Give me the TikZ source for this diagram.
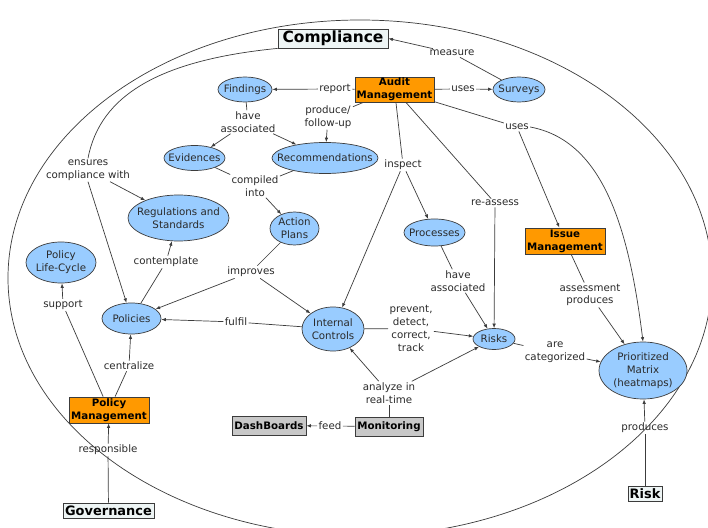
\documentclass[tikz,border=0pt]{standalone}
\usepackage{fontspec}
\setmainfont{DejaVu Sans}
\usetikzlibrary{shapes.geometric,arrows.meta}
\definecolor{cblue}{HTML}{99CCFF}
\definecolor{corange}{HTML}{FF9900}
\definecolor{cgray}{HTML}{C8C8C8}
\definecolor{clight}{HTML}{EEF5F5}
\definecolor{cline}{HTML}{3C3C3C}
\definecolor{ctext}{HTML}{2A2A2A}
\tikzset{
  concept/.style={ellipse, draw=cline, fill=cblue, line width=0.7bp, inner sep=0pt},
  ctxt/.style={inner sep=0pt, align=center, font=\fontsize{10.3}{12.8}\selectfont, text=ctext},
  orangebox/.style={rectangle, draw=cline, fill=corange, line width=0.8bp, inner sep=0pt, align=center, font=\bfseries\fontsize{10.3}{12.8}\selectfont},
  graybox/.style={rectangle, draw=cline, fill=cgray, line width=0.8bp, inner sep=0pt, font=\bfseries\fontsize{10.3}{12.8}\selectfont},
  lightbox/.style={rectangle, draw=cline, fill=clight, line width=0.8bp, inner sep=0pt},
  lbl/.style={inner sep=1.2bp, align=center, font=\fontsize{10.3}{12.8}\selectfont, text=ctext},
  conn/.style={draw=cline, line width=0.7bp},
  arr/.style={conn, -{Latex[length=4.5bp,width=3.5bp]}},
}
\newcommand{\concept}[5]{%
  \node[concept, minimum width=#3bp, minimum height=#4bp] (#1) at (#2) {};
  \node[ctxt] (#1-t) at (#1.center) {#5};}
\begin{document}
\begin{tikzpicture}[x=1bp,y=-1bp]
\useasboundingbox (0,0) rectangle (708,528);
\fill[white] (0,0) rectangle (708,528);
\draw[conn] (360,278) ellipse [x radius=352, y radius=258];

% main boxes
\node[lightbox, minimum width=110bp, minimum height=19bp, font=\bfseries\fontsize{15.5}{18}\selectfont] (compl) at (333,38.5) {Compliance};
\node[lightbox, minimum width=91bp, minimum height=15bp, font=\bfseries\fontsize{13}{15}\selectfont] (gov) at (108.5,510.5) {Governance};
\node[lightbox, minimum width=34bp, minimum height=15bp, font=\bfseries\fontsize{13}{15}\selectfont] (risk) at (645,494) {Risk};
\node[orangebox, minimum width=79bp, minimum height=25bp] (audit) at (394.5,89.5) {Audit\\Management};
\node[orangebox, minimum width=80bp, minimum height=26bp] (issue) at (565,241) {Issue\\Management};
\node[orangebox, minimum width=80bp, minimum height=26bp] (polm) at (109,410) {Policy\\Management};
\node[graybox, minimum width=74bp, minimum height=19bp] (dash) at (269,425.5) {DashBoards};
\node[graybox, minimum width=68bp, minimum height=19bp] (monit) at (389,426.5) {Monitoring};

% concepts
\concept{surveys}{519,89.5}{52}{25}{Surveys}
\concept{findings}{245,89.5}{54}{25}{Findings}
\concept{evid}{194.5,158}{61}{25}{Evidences}
\concept{recom}{325,158}{106}{31}{Recommendations}
\concept{regs}{178.5,218}{101}{46}{Regulations and\\Standards}
\concept{actp}{294.5,228.5}{49}{33}{Action\\Plans}
\concept{plc}{61,262.5}{70}{41}{Policy\\Life-Cycle}
\concept{pol}{131.5,318.5}{59}{31}{Policies}
\concept{ic}{333,329}{62}{44}{Internal\\Controls}
\concept{proc}{434.5,232.5}{61}{27}{Processes}
\concept{risks}{494,339}{42}{21}{Risks}
\concept{pm}{643,370.5}{88}{57}{Prioritized\\Matrix\\(heatmaps)}

% linking phrases
\node[lbl] (l-report) at (335,89) {report};
\node[lbl] (l-prod) at (328,117) {produce/\\follow-up};
\node[lbl] (l-have1) at (248,122) {have\\associated};
\node[lbl] (l-comp) at (255,186) {compiled\\into};
\node[lbl] (l-ens) at (88,170) {ensures\\compliance with};
\node[lbl] (l-cont) at (166,262) {contemplate};
\node[lbl] (l-impr) at (251,272) {improves};
\node[lbl] (l-fulfil) at (236,322) {fulfil};
\node[lbl] (l-insp) at (403,165) {inspect};
\node[lbl] (l-reas) at (495,203) {re-assess};
\node[lbl] (l-uses1) at (463,89) {uses};
\node[lbl] (l-meas) at (452,53) {measure};
\node[lbl] (l-uses2) at (517,127) {uses};
\node[lbl] (l-assess) at (590,295) {assessment\\produces};
\node[lbl] (l-have2) at (458,281) {have\\associated};
\node[lbl] (l-prev) at (411,328.5) {prevent,\\detect,\\correct,\\track};
\node[lbl] (l-cat) at (555,352.5) {are\\categorized};
\node[lbl] (l-anal) at (389,393) {analyze in\\real-time};
\node[lbl] (l-feed) at (330,426) {feed};
\node[lbl] (l-cent) at (129,366) {centralize};
\node[lbl] (l-supp) at (63,305) {support};
\node[lbl] (l-resp) at (108,450) {responsible};
\node[lbl] (l-prodc) at (645,428) {produces};

% connectors
\draw[conn] (audit) -- (l-report); \draw[arr] (l-report) -- (findings);
\draw[conn] (audit) -- (l-prod); \draw[arr] (l-prod) -- (recom);
\draw[conn] (findings) -- (l-have1); \draw[arr] (l-have1) -- (evid); \draw[arr] (l-have1) -- (recom);
\draw[conn] (evid) -- (l-comp); \draw[conn] (recom) -- (l-comp); \draw[arr] (l-comp) -- (actp);
\draw[conn] (compl.south west) .. controls (160,60) and (100,95) .. (l-ens.north);
\draw[arr] (l-ens) -- (regs); \draw[arr] (l-ens.south) -- (pol);
\draw[conn] (pol) -- (l-cont); \draw[arr] (l-cont) -- (regs);
\draw[conn] (actp) -- (l-impr); \draw[arr] (l-impr) -- (pol); \draw[arr] (l-impr) -- (ic);
\draw[conn] (ic) -- (l-fulfil); \draw[arr] (l-fulfil) -- (pol);
\draw[conn] (audit) -- (l-insp); \draw[arr] (l-insp) -- (ic); \draw[arr] (l-insp) -- (proc);
\draw[conn] (audit) -- (l-reas); \draw[arr] (l-reas) -- (risks);
\draw[conn] (audit) -- (l-uses1); \draw[arr] (l-uses1) -- (surveys);
\draw[conn] (surveys) -- (l-meas); \draw[arr] (l-meas) -- (compl.east);
\draw[conn] (audit) -- (l-uses2); \draw[arr] (l-uses2) -- (issue);
\draw[arr] (l-uses2.east) .. controls (600,140) and (628,220) .. (pm.north);
\draw[conn] (issue) -- (l-assess); \draw[arr] (l-assess) -- (pm);
\draw[conn] (proc) -- (l-have2); \draw[arr] (l-have2) -- (risks);
\draw[conn] (ic) -- (l-prev); \draw[arr] (l-prev) -- (risks);
\draw[conn] (risks) -- (l-cat); \draw[arr] (l-cat) -- (pm);
\draw[conn] (monit) -- (l-anal); \draw[arr] (l-anal) -- (ic); \draw[arr] (l-anal) -- (risks);
\draw[conn] (monit) -- (l-feed); \draw[arr] (l-feed) -- (dash);
\draw[conn] (polm) -- (l-cent); \draw[arr] (l-cent) -- (pol);
\draw[conn] (polm) -- (l-supp); \draw[arr] (l-supp) -- (plc);
\draw[conn] (gov) -- (l-resp); \draw[arr] (l-resp) -- (polm);
\draw[conn] (risk) -- (l-prodc); \draw[arr] (l-prodc) -- (pm);
\end{tikzpicture}
\end{document}
